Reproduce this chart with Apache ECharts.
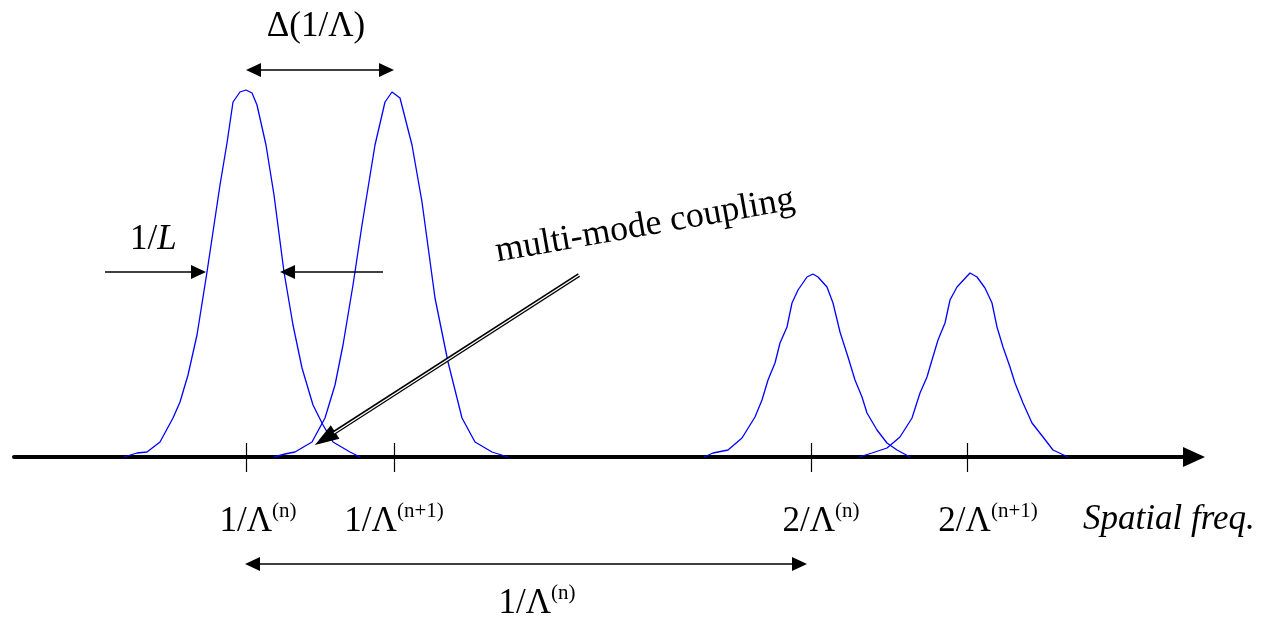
<!DOCTYPE html>
<html>
<head>
<meta charset="utf-8">
<title>Spatial freq.</title>
<script src="https://cdn.jsdelivr.net/npm/echarts@6/dist/echarts.min.js"></script>
<style>
	html, body { margin: 0; padding: 0; background: #fff; }
	#echart-container { width: 1264px; height: 618px; }
</style>
</head>
<body>
<div id="echart-container"></div>
<script>
(function(){
	"use strict";

	// tick positions (a.u.) and their labels
	var tickValues = [2.32, 3.80, 7.97, 9.53];
	var tickBase = ['1/Λ', '1/Λ', '2/Λ', '2/Λ'];
	var tickSup = ['(n)', '(n+1)', '(n)', '(n+1)'];

	// peaks: [freq, amplitude]
	var peak1 = [[1.10,0],[1.23,0.04],[1.33,0.05],[1.46,0.15],[1.59,0.39],[1.66,0.55],[1.74,0.82],[1.83,1.22],[1.93,1.85],[2.06,2.72],[2.13,3.14],[2.19,3.55],[2.26,3.65],[2.32,3.67],[2.38,3.64],[2.43,3.52],[2.52,3.12],[2.60,2.62],[2.70,1.85],[2.79,1.32],[2.88,0.89],[2.99,0.52],[3.09,0.32],[3.19,0.15],[3.36,0.05],[3.46,0]];
	var peak2 = [[2.60,0],[2.71,0.03],[2.81,0.05],[2.98,0.15],[3.11,0.39],[3.21,0.72],[3.29,1.12],[3.39,1.72],[3.48,2.32],[3.61,3.12],[3.71,3.55],[3.78,3.65],[3.86,3.59],[3.98,3.12],[4.08,2.55],[4.21,1.59],[4.34,0.95],[4.48,0.39],[4.61,0.15],[4.78,0.05],[4.94,0]];
	var peak3 = [[6.90,0],[6.99,0.04],[7.14,0.07],[7.28,0.19],[7.41,0.40],[7.48,0.57],[7.54,0.77],[7.61,0.94],[7.66,1.14],[7.73,1.30],[7.78,1.54],[7.84,1.67],[7.93,1.80],[7.99,1.83],[8.04,1.80],[8.13,1.70],[8.19,1.54],[8.26,1.25],[8.34,1.00],[8.41,0.77],[8.48,0.60],[8.53,0.44],[8.63,0.27],[8.73,0.14],[8.83,0.07],[8.96,0]];
	var peak4 = [[8.45,0],[8.58,0.04],[8.73,0.09],[8.86,0.20],[8.98,0.39],[9.06,0.64],[9.13,0.80],[9.18,0.97],[9.24,1.17],[9.31,1.34],[9.36,1.57],[9.43,1.70],[9.56,1.84],[9.63,1.80],[9.71,1.69],[9.78,1.54],[9.83,1.30],[9.89,1.10],[9.96,0.90],[10.01,0.74],[10.09,0.54],[10.18,0.34],[10.29,0.20],[10.39,0.07],[10.54,0]];

	var FONT = '"Liberation Serif", "Times New Roman", serif';
	var richText = {
		a: { fontFamily: FONT, fontSize: 35, color: '#000', lineHeight: 38, verticalAlign: 'bottom' },
		s: { fontFamily: FONT, fontSize: 21, color: '#000', lineHeight: 38, verticalAlign: 'top' }
	};
	// left padding (px) per tick label, the labels in the figure sit a bit off-centre
	var labelPad = [24, 0, 20, 42];

	function tickLabel(val){
		for (var i = 0; i < tickValues.length; i++) {
			if (Math.abs(tickValues[i] - val) < 1e-6) {
				return '{a' + i + '|' + tickBase[i] + '}{s|' + tickSup[i] + '}';
			}
		}
		return '';
	}

	function arrow(from, to, both){
		return [
			{ coord: from, symbol: both ? 'triangle' : 'none' },
			{ coord: to, symbol: 'triangle' }
		];
	}

	function $extend(base, add){
		var o = {}, k;
		for (k in base) { o[k] = base[k]; }
		for (k in add) { o[k] = add[k]; }
		return o;
	}

	function peakSeries(data, marks){
		return {
			type: 'line',
			data: data,
			showSymbol: false,
			smooth: false,
			silent: true,
			lineStyle: { color: '#0000ff', width: 1.3 },
			markLine: marks
		};
	}

	var labelRich = { s: richText.s };
	labelPad.forEach(function(p, i){
		labelRich['a' + i] = $extend(richText.a, { padding: [0, 0, 0, p] });
	});

	var lineMark = {
		silent: true,
		animation: false,
		label: { show: false },
		symbolSize: [14, 15],
		lineStyle: { color: '#000', width: 1.5, type: 'solid' }
	};

	// tick marks crossing the axis
	var tickMarks = $extend(lineMark, {
		symbol: 'none',
		lineStyle: { color: '#000', width: 1.2, type: 'solid' },
		data: tickValues.map(function(v){ return [{ coord: [v, -0.15] }, { coord: [v, 0.14] }]; })
	});

	// dimension arrows
	var dimMarks = $extend(lineMark, {
		data: [
			arrow([2.395, 3.87], [3.725, 3.87], true),   // Δ(1/Λ)
			arrow([0.91, 1.85], [1.845, 1.85], false),   // 1/L left
			arrow([3.69, 1.85], [2.735, 1.85], false),   // 1/L right
			arrow([2.385, -1.07], [7.855, -1.07], true)  // 1/Λ(n)
		]
	});

	// multi-mode coupling: thick black line with white core => double line
	var coupleOuter = $extend(lineMark, {
		symbolSize: [16, 24],
		lineStyle: { color: '#000', width: 4, type: 'solid' },
		data: [arrow([5.65, 1.82], [3.11, 0.185], false)]
	});
	var coupleInner = $extend(lineMark, {
		z: 6,
		symbol: 'none',
		lineStyle: { color: '#fff', width: 1.4, type: 'solid' },
		data: [[{ coord: [5.66, 1.825] }, { coord: [3.20, 0.24] }]]
	});

	var dom = document.getElementById('echart-container');
	var myChart = echarts.init(dom, null, { renderer: 'canvas' });
	var option = {
		animation: false,
		backgroundColor: '#fff',
		grid: { left: 14, right: 70, top: 0, bottom: 0, containLabel: false, outerBoundsMode: 'none' },
		xAxis: {
			type: 'value',
			min: 0,
			max: 11.8,
			position: 'bottom',
			offset: -161,   // lift the axis from the grid bottom to amplitude 0
			splitLine: { show: false },
			axisTick: { show: false },
			axisLine: {
				onZero: false,
				symbol: ['none', 'triangle'],
				symbolSize: [20, 22],
				lineStyle: { color: '#000', width: 4 }
			},
			axisLabel: {
				customValues: tickValues,
				margin: 44,
				formatter: tickLabel,
				rich: labelRich
			}
		},
		yAxis: {
			type: 'value',
			min: -1.61,
			max: 4.57,
			show: false
		},
		series: [
			peakSeries(peak1, tickMarks),
			peakSeries(peak2, dimMarks),
			peakSeries(peak3, coupleOuter),
			peakSeries(peak4, coupleInner)
		],
		graphic: [
			{ type: 'text', x: 316, y: 27, silent: true,
			  style: { text: 'Δ(1/Λ)', font: '35px ' + FONT, fill: '#000', align: 'center', verticalAlign: 'middle' } },
			{ type: 'text', x: 130, y: 240, silent: true,
			  style: { text: '{a|1/}{b|L}', verticalAlign: 'middle',
			           rich: { a: { fontFamily: FONT, fontSize: 35, color: '#000' },
			                   b: { fontFamily: FONT, fontSize: 35, fontStyle: 'italic', color: '#000' } } } },
			{ type: 'text', x: 499, y: 270, rotation: 10 * Math.PI / 180, silent: true,
			  style: { text: 'multi-mode coupling', font: '36px ' + FONT, fill: '#000', align: 'left', verticalAlign: 'bottom' } },
			{ type: 'text', x: 1083, y: 520, silent: true,
			  style: { text: 'Spatial freq.', font: 'italic 35px ' + FONT, fill: '#000', align: 'left', verticalAlign: 'middle' } },
			{ type: 'text', x: 537, y: 602, silent: true,
			  style: { text: '{a|1/Λ}{s|(n)}', align: 'center', verticalAlign: 'middle', rich: richText } }
		]
	};
	if (option && typeof option === "object") {
		myChart.setOption(option, true);
	}
})();
</script>
</body>
</html>
